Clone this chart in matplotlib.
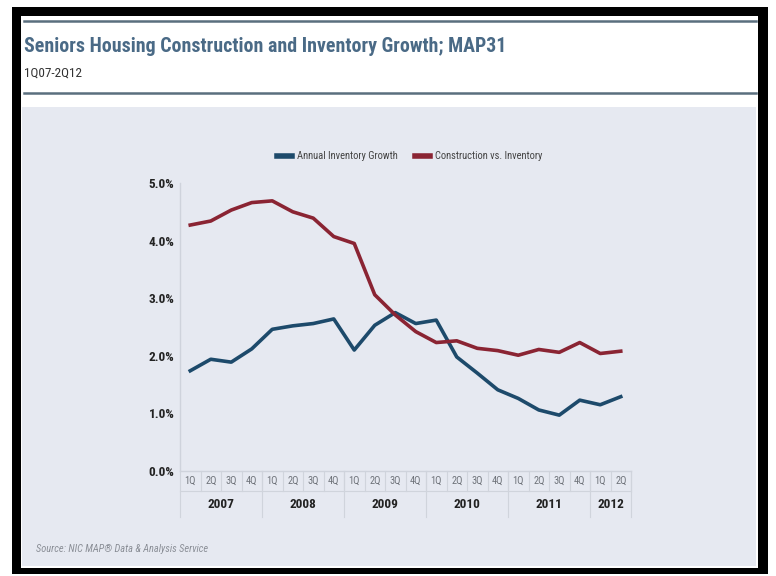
import matplotlib
matplotlib.use("Agg")
import matplotlib.pyplot as plt
from matplotlib.patches import Rectangle
from matplotlib.lines import Line2D
import matplotlib.transforms as mtransforms

# ---- data -------------------------------------------------------------
years = ["2007", "2008", "2009", "2010", "2011", "2012"]
quarters_per_year = [4, 4, 4, 4, 4, 2]
quarter_labels = ["1Q", "2Q", "3Q", "4Q"] * 5 + ["1Q", "2Q"]

annual_inventory_growth = [1.74, 1.94, 1.89, 2.12, 2.46, 2.52, 2.56, 2.64,
                           2.10, 2.53, 2.75, 2.56, 2.62, 1.98, 1.70, 1.41,
                           1.26, 1.06, 0.97, 1.23, 1.15, 1.29]
construction_vs_inventory = [4.27, 4.34, 4.53, 4.66, 4.69, 4.50, 4.39, 4.07,
                             3.95, 3.06, 2.71, 2.42, 2.23, 2.26, 2.13, 2.09,
                             2.01, 2.11, 2.06, 2.23, 2.04, 2.08]
y_ticks = [0.0, 1.0, 2.0, 3.0, 4.0, 5.0]

COND = ["Roboto Condensed", "DejaVu Sans"]
plt.rcParams["font.family"] = COND

W, H = 776, 576
fig = plt.figure(figsize=(W / 100, H / 100), dpi=100)
fig.patch.set_facecolor("white")


def fx(px):
    return px / W


def fy(py):
    return 1 - py / H


def rect(x0, y0, x1, y1, color):
    fig.add_artist(Rectangle((fx(x0), fy(y1)), fx(x1) - fx(x0), fy(y0) - fy(y1),
                             transform=fig.transFigure, facecolor=color,
                             edgecolor="none", zorder=-10))


# frame, white card and shaded chart panel
rect(12, 7, 768, 574, "black")
rect(21, 16, 758, 568, "white")
rect(22, 107, 756, 566, "#e6e9f1")

for yy in (21, 93):
    fig.add_artist(Line2D([fx(24), fx(756)], [fy(yy), fy(yy)],
                          transform=fig.transFigure, color="#5a6f7e", lw=1.8))

fig.text(fx(24), fy(46), "Seniors Housing Construction and Inventory Growth; MAP31",
         weight="bold", fontsize=14.3, color="#4a6a86", va="center")
fig.text(fx(24), fy(73), "1Q07-2Q12", fontsize=9.5, color="#333333", va="center")
fig.text(fx(36), fy(549), "Source: NIC MAP\u00ae Data & Analysis Service",
         style="italic", fontsize=7.5, color="#8a8e96", va="center")

# ---- axes -------------------------------------------------------------
ax_left, ax_right, ax_top, ax_bottom = 180, 631, 183, 471
ax = fig.add_axes([fx(ax_left), fy(ax_bottom), fx(ax_right) - fx(ax_left),
                   (ax_bottom - ax_top) / H])
ax.set_facecolor("none")

x = list(range(len(annual_inventory_growth)))
l1, = ax.plot(x, annual_inventory_growth, color="#1d4a6b", lw=2.6,
              solid_joinstyle="round", label="Annual Inventory Growth")
l2, = ax.plot(x, construction_vs_inventory, color="#8a2433", lw=2.6,
              solid_joinstyle="round", label="Construction vs. Inventory")

ax.set_xlim(-0.5, len(x) - 0.5)
ax.set_ylim(0, 5.0)
ax.set_yticks(y_ticks)
ax.set_yticklabels([f"{v:.1f}%" for v in y_ticks], weight="bold",
                   fontsize=9.5, color="#222222")
ax.tick_params(axis="y", length=0, pad=4)
ax.set_xticks([])
for s in ("top", "right"):
    ax.spines[s].set_visible(False)
for s in ("left", "bottom"):
    ax.spines[s].set_color("#cfd3dc")
    ax.spines[s].set_linewidth(1)

# category table under the x axis
trans = mtransforms.blended_transform_factory(ax.transData, ax.transAxes)
hpx = ax_bottom - ax_top
row1 = -(491 - ax_bottom) / hpx
row2 = -(517 - ax_bottom) / hpx
grid_c = "#d0d4dc"
ax.plot([-0.5, len(x) - 0.5], [row1, row1], transform=trans, color=grid_c,
        lw=0.8, clip_on=False)
for i, q in enumerate(quarter_labels):
    ax.text(i, (0 + row1) / 2, q, transform=trans, ha="center", va="center",
            fontsize=7.5, color="#6f737a")
    ax.plot([i + 0.5, i + 0.5], [0, row1], transform=trans, color=grid_c,
            lw=0.8, clip_on=False)
start = 0
ax.plot([-0.5, -0.5], [0, row2], transform=trans, color=grid_c, lw=0.8,
        clip_on=False)
for yr, n in zip(years, quarters_per_year):
    mid = start + (n - 1) / 2
    ax.text(mid, (row1 + row2) / 2, yr, transform=trans, ha="center",
            va="center", weight="bold", fontsize=9.5, color="#222222")
    edge = start + n - 0.5
    ax.plot([edge, edge], [0, row2], transform=trans, color=grid_c, lw=0.8,
            clip_on=False)
    start += n

leg = fig.legend(handles=[l1, l2], loc="center", bbox_to_anchor=(fx(410), fy(156)),
                 ncol=2, frameon=False, handlelength=1.4, handleheight=0.5,
                 columnspacing=1.6, handletextpad=0.5,
                 prop={"family": COND, "size": 7.6})
for h in leg.legend_handles:
    h.set_linewidth(4)
for t in leg.get_texts():
    t.set_color("#444444")

fig.savefig("out.png", dpi=100)
